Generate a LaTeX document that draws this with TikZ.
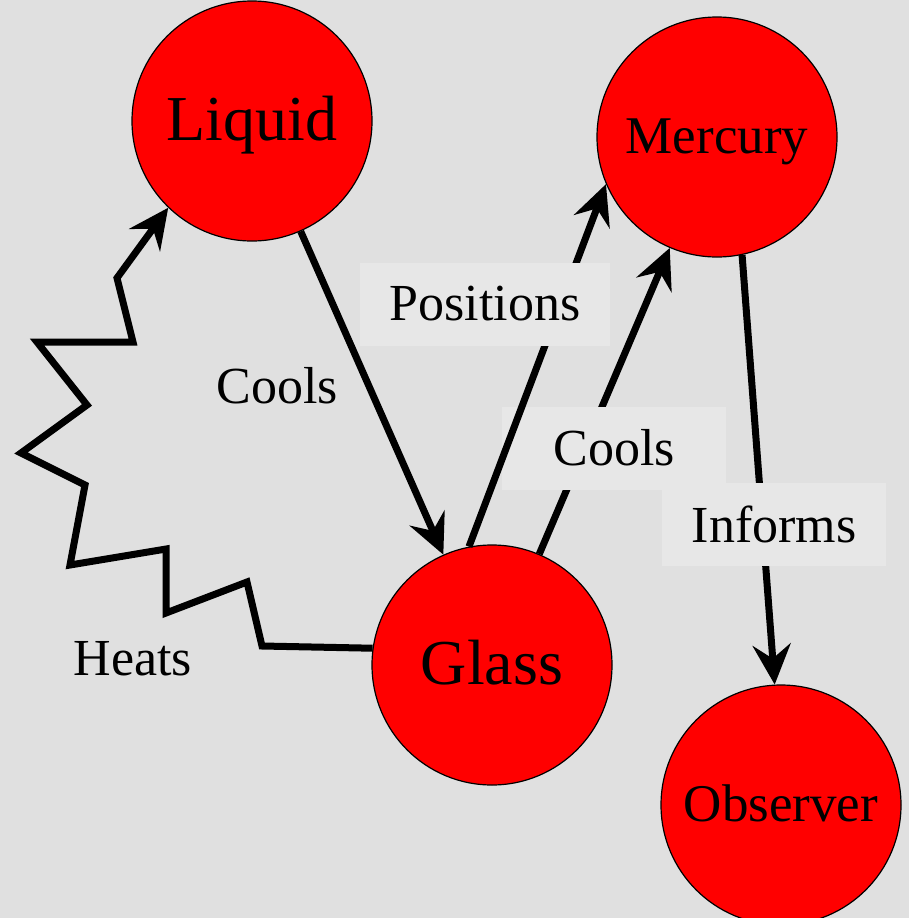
\documentclass[tikz,border=0pt]{standalone}
\usepackage{fontspec}
\setmainfont{Liberation Serif}
\usetikzlibrary{arrows.meta}
\definecolor{bggray}{RGB}{224,224,224}
\definecolor{boxgray}{RGB}{231,231,231}
\definecolor{nodered}{RGB}{255,0,0}
\begin{document}
\begin{tikzpicture}[x=1pt,y=-1pt,
    thing/.style={circle,draw=black,line width=1.2pt,fill=nodered,minimum size=240pt,inner sep=0pt,text depth=0pt},
    big/.style={font=\fontsize{64}{64}\selectfont,text height=38pt},
    small/.style={font=\fontsize{53}{53}\selectfont,text height=32pt},
    link/.style={line width=7pt,-{Stealth[length=40pt,width=38pt,inset=14pt]}},
    tag/.style={fill=boxgray,minimum width=224pt,minimum height=83pt,inner xsep=30pt,font=\fontsize{52}{52}\selectfont},
    plain/.style={anchor=base,font=\fontsize{52}{52}\selectfont}]
      \fill[bggray] (0,0) rectangle (909,918);
      \useasboundingbox (0,0) rectangle (909,918);
      \node[thing,big] (liquid) at (252,121) {Liquid};
      \node[thing,big] (glass) at (492,665) {Glass};
      \node[thing,small] (mercury) at (717,137) {Mercury};
      \node[thing,small] (observer) at (781,805) {Observer};
      % liquid cools the glass
      \draw[link] (liquid) -- (glass);
      \node[plain] (coolsa) at (277,403) {Cools};
      % glass to mercury
      \draw[link] (glass) -- (mercury);
      \node[tag] (coolsb) at (614,448) {Cools};
      \draw[link] (glass.101) -- (mercury.203);
      \node[tag] (positions) at (485,304) {Positions};
      % mercury to observer
      \draw[link] (mercury.282) -- (observer.93);
      \node[tag] (informs) at (774,524) {Informs};
      % glass heats the liquid
      \draw[link] (glass.172) -- (262,646) -- (247,582) -- (166,613) -- (166,549)
        -- (70,565) -- (85,485) -- (21,453) -- (87,405) -- (37,342) -- (133,342)
        -- (117,278) -- (liquid.226);
      \node[plain] (heats) at (133,675) {Heats};
\end{tikzpicture}
\end{document}
